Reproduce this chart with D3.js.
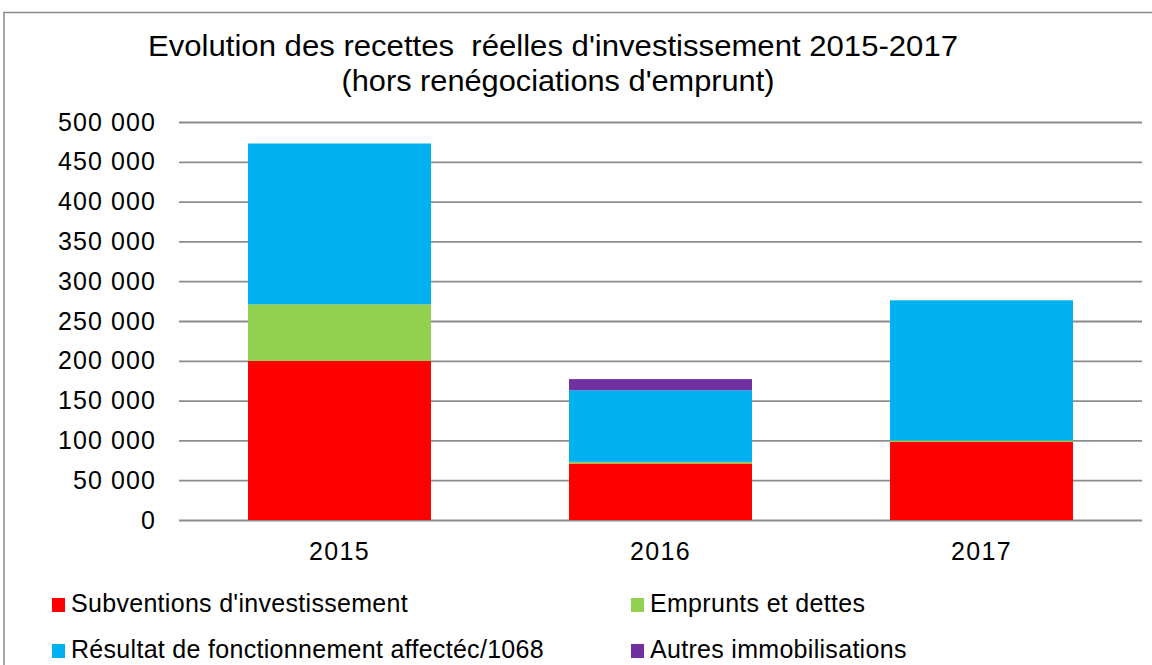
<!DOCTYPE html>
<html>
<head>
<meta charset="utf-8">
<script src="https://cdn.jsdelivr.net/npm/d3@7"></script>
<style>
  html, body { margin: 0; padding: 0; background: #fff; }
  svg { display: block; }
</style>
</head>
<body>
<svg id="chart" width="1152" height="665"></svg>
<script>
const categories = ["2015", "2016", "2017"];
const subventions = [200000, 71000, 98000];
const emprunts = [71000, 2000, 2000];
const resultat = [202000, 90000, 176000];
const autres = [0, 14000, 0];
const seriesNames = ["Subventions d'investissement", "Emprunts et dettes", "Résultat de fonctionnement affectéc/1068", "Autres immobilisations"];
const seriesColors = ["#FF0000", "#92D050", "#00B0F0", "#7030A0"];
const yTicks = [0, 50000, 100000, 150000, 200000, 250000, 300000, 350000, 400000, 450000, 500000];
const titleLines = ["Evolution des recettes  réelles d'investissement 2015-2017", "(hors renégociations d'emprunt)"];

const svg = d3.select("#chart");
const margin = { left: 179, top: 122 };
const plotRight = 1142, plotBottom = 520;

// outer border
svg.append("path")
  .attr("d", `M4,665 L4,12.5 L1152,12.5`)
  .attr("fill", "none").attr("stroke", "#8a8a8a").attr("stroke-width", 1.5);

const x = d3.scaleBand().domain(categories).range([margin.left, plotRight])
  .paddingInner(0.43).paddingOuter(0.215);
const y = d3.scaleLinear().domain([0, 500000]).range([plotBottom, margin.top]);

const loc = d3.formatLocale({ decimal: ",", thousands: " ", grouping: [3], currency: ["", "€"] });
const fmt = loc.format(",d");

// gridlines + y labels
const yAxis = d3.axisLeft(y).tickValues(yTicks).tickSize(-(plotRight - margin.left)).tickFormat(fmt).tickPadding(23);
const gy = svg.append("g").attr("transform", `translate(${margin.left},0)`).call(yAxis);
gy.select(".domain").remove();
gy.selectAll(".tick line").attr("stroke", "#8c8c8c").attr("stroke-width", 1.8);
gy.selectAll(".tick text").attr("font-family", "'Liberation Sans', Arial, sans-serif")
  .attr("font-size", 25).attr("letter-spacing", 1.1).attr("fill", "#000");

// stacked data
const table = categories.map((c, i) => ({ cat: c, s0: subventions[i], s1: emprunts[i], s2: resultat[i], s3: autres[i] }));
const stacked = d3.stack().keys(["s0", "s1", "s2", "s3"])(table);

svg.append("g").selectAll("g").data(stacked).join("g")
  .attr("fill", (d, i) => seriesColors[i])
  .selectAll("rect").data(d => d).join("rect")
  .attr("x", d => x(d.data.cat))
  .attr("width", x.bandwidth())
  .attr("y", d => y(d[1]))
  .attr("height", d => Math.max(0, y(d[0]) - y(d[1])));

// x axis labels
const xAxis = d3.axisBottom(x).tickSize(0).tickPadding(22);
const gx = svg.append("g").attr("transform", `translate(0,${plotBottom})`).call(xAxis);
gx.select(".domain").remove();
gx.selectAll(".tick text").attr("font-family", "'Liberation Sans', Arial, sans-serif")
  .attr("font-size", 25).attr("letter-spacing", 1.4).attr("fill", "#000");

// title
const title = svg.append("g");
const tl = [{ t: titleLines[0], x: 553, y: 56, w: 810 }, { t: titleLines[1], x: 558, y: 91, w: 433 }];
tl.forEach(d => {
  title.append("text").attr("x", d.x).attr("y", d.y).attr("text-anchor", "middle")
    .attr("font-family", "'Liberation Sans', Arial, sans-serif")
    .attr("font-size", 29).attr("fill", "#000")
    .style("white-space", "pre")
    .attr("textLength", d.w).attr("lengthAdjust", "spacingAndGlyphs")
    .text(d.t);
});

// legend
const legPos = [[52, 598], [631, 598], [52, 644], [631, 644]];
const leg = svg.append("g");
seriesNames.forEach((n, i) => {
  const [lx, ly] = legPos[i];
  leg.append("rect").attr("x", lx).attr("y", ly).attr("width", 13).attr("height", 14).attr("fill", seriesColors[i]);
  leg.append("text").attr("x", lx + 19).attr("y", ly + 14)
    .attr("font-family", "'Liberation Sans', Arial, sans-serif").attr("font-size", 25)
    .attr("letter-spacing", 0.3).attr("fill", "#000")
    .text(n);
});
</script>
</body>
</html>
